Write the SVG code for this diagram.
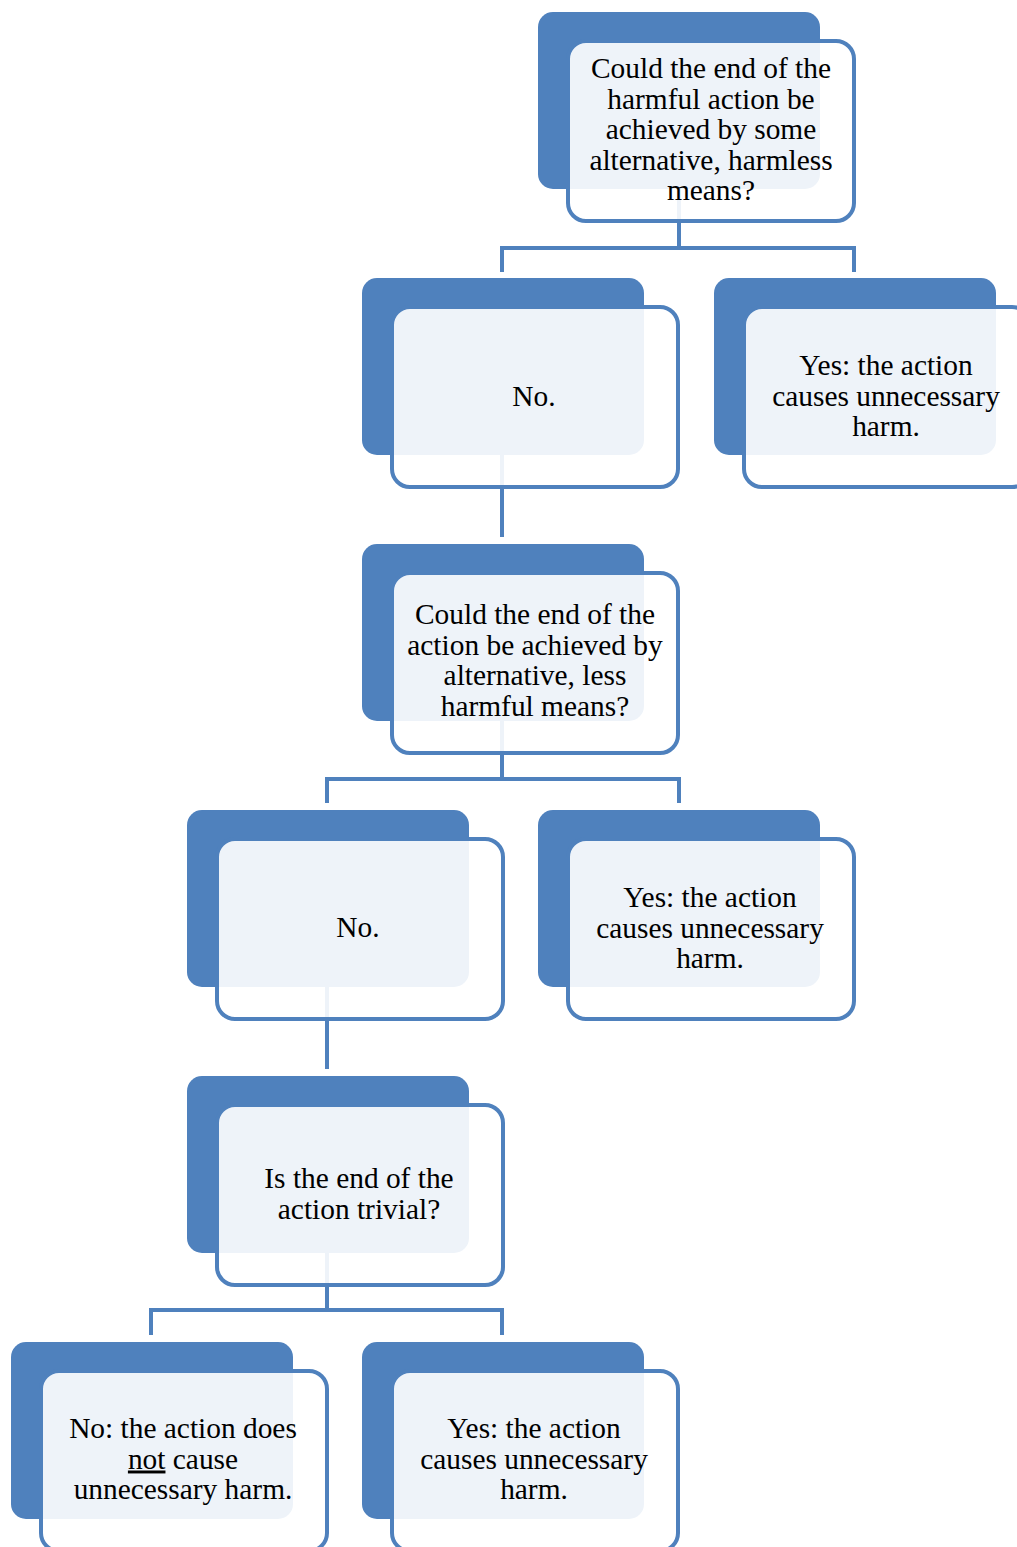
<svg xmlns="http://www.w3.org/2000/svg" width="1017" height="1547" viewBox="0 0 1017 1547">
<style>
.bk{fill:#4F81BD}
.fr{fill:#FFFFFF;fill-opacity:0.9;stroke:#4F81BD;stroke-width:4}
.cn{fill:none;stroke:#4F81BD;stroke-width:4}
.t{font-family:'Liberation Serif','Times New Roman','DejaVu Serif',serif;font-size:29.4px;fill:#000;text-anchor:middle}
</style>
<rect width="1017" height="1547" fill="#FFFFFF"/>
<g id="connectors">
<path class="cn" d="M679 188V248M502 272V248H854V272"/>
<path class="cn" d="M502 455V537"/>
<path class="cn" d="M502 720V779M327 803V779H679V803"/>
<path class="cn" d="M327 987V1069"/>
<path class="cn" d="M327 1252V1310M151 1335V1310H502V1335"/>
</g>
<g id="n1">
<rect class="bk" x="538" y="12" width="282" height="177" rx="15"/>
<rect class="fr" x="568" y="41" width="286" height="180" rx="18"/>
<text class="t" font-family="Liberation Serif, serif" x="711" y="78">Could the end of the</text>
<text class="t" x="711" y="108.5">harmful action be</text>
<text class="t" x="711" y="139">achieved by some</text>
<text class="t" x="711" y="169.5">alternative, harmless</text>
<text class="t" x="711" y="200">means?</text>
</g>
<g id="n2">
<rect class="bk" x="362" y="278" width="282" height="177" rx="15"/>
<rect class="fr" x="392" y="307" width="286" height="180" rx="18"/>
<text class="t" x="534" y="406">No.</text>
</g>
<g id="n3">
<rect class="bk" x="714" y="278" width="282" height="177" rx="15"/>
<rect class="fr" x="744" y="307" width="286" height="180" rx="18"/>
<text class="t" x="886" y="375">Yes: the action</text>
<text class="t" x="886" y="405.5">causes unnecessary</text>
<text class="t" x="886" y="436">harm.</text>
</g>
<g id="n4">
<rect class="bk" x="362" y="544" width="282" height="177" rx="15"/>
<rect class="fr" x="392" y="573" width="286" height="180" rx="18"/>
<text class="t" x="535" y="624">Could the end of the</text>
<text class="t" x="535" y="654.5">action be achieved by</text>
<text class="t" x="535" y="685">alternative, less</text>
<text class="t" x="535" y="715.5">harmful means?</text>
</g>
<g id="n5">
<rect class="bk" x="187" y="810" width="282" height="177" rx="15"/>
<rect class="fr" x="217" y="839" width="286" height="180" rx="18"/>
<text class="t" x="358" y="937">No.</text>
</g>
<g id="n6">
<rect class="bk" x="538" y="810" width="282" height="177" rx="15"/>
<rect class="fr" x="568" y="839" width="286" height="180" rx="18"/>
<text class="t" x="710" y="907">Yes: the action</text>
<text class="t" x="710" y="937.5">causes unnecessary</text>
<text class="t" x="710" y="968">harm.</text>
</g>
<g id="n7">
<rect class="bk" x="187" y="1076" width="282" height="177" rx="15"/>
<rect class="fr" x="217" y="1105" width="286" height="180" rx="18"/>
<text class="t" x="359" y="1188">Is the end of the</text>
<text class="t" x="359" y="1218.5">action trivial?</text>
</g>
<g id="n8">
<rect class="bk" x="11" y="1342" width="282" height="177" rx="15"/>
<rect class="fr" x="41" y="1371" width="286" height="180" rx="18"/>
<text class="t" x="183" y="1438">No: the action does</text>
<text class="t" x="183" y="1468.5"><tspan text-decoration="underline">not</tspan> cause</text>
<text class="t" x="183" y="1499">unnecessary harm.</text>
</g>
<g id="n9">
<rect class="bk" x="362" y="1342" width="282" height="177" rx="15"/>
<rect class="fr" x="392" y="1371" width="286" height="180" rx="18"/>
<text class="t" x="534" y="1438">Yes: the action</text>
<text class="t" x="534" y="1468.5">causes unnecessary</text>
<text class="t" x="534" y="1499">harm.</text>
</g>
</svg>
